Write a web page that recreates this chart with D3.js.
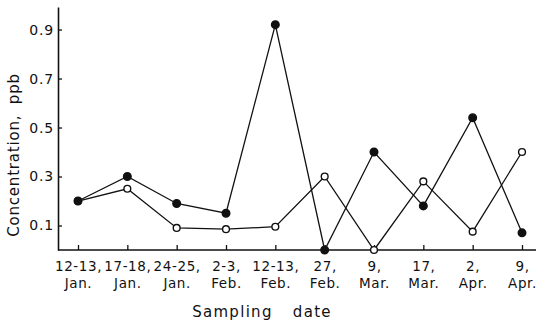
<!DOCTYPE html>
<html>
<head>
<meta charset="utf-8">
<script src="https://cdn.jsdelivr.net/npm/d3@7"></script>
<style>
  html, body { margin: 0; padding: 0; background: #fff; }
  svg { display: block; }
  text { font-family: "DejaVu Sans", sans-serif; fill: #111; }
</style>
</head>
<body>
<svg id="chart" width="536" height="325"></svg>
<script>
// Sampling dates (two-line labels)
const dateTop = ["12-13,", "17-18,", "24-25,", "2-3,", "12-13,", "27,", "9,", "17,", "2,", "9,"];
const dateBottom = ["Jan.", "Jan.", "Jan.", "Feb.", "Feb.", "Feb.", "Mar.", "Mar.", "Apr.", "Apr."];

// Concentration, ppb
const filledSeries = [0.20, 0.30, 0.19, 0.15, 0.92, 0.00, 0.40, 0.18, 0.54, 0.07];
const openSeries   = [0.20, 0.25, 0.09, 0.085, 0.095, 0.30, 0.00, 0.28, 0.075, 0.40];

const yTicks = [0.1, 0.3, 0.5, 0.7, 0.9];

const svg = d3.select("#chart");
const margin = { left: 58, right: 0, top: 7, bottom: 75 };
const width = 536, height = 325;

const x = d3.scalePoint()
  .domain(d3.range(dateTop.length))
  .range([78, 522]);

const y = d3.scaleLinear()
  .domain([0, 0.992])
  .range([height - margin.bottom, margin.top]);

// y axis
const yAxis = d3.axisLeft(y)
  .tickValues(yTicks)
  .tickFormat(d3.format(".1f"))
  .tickSizeInner(-4)
  .tickSizeOuter(0)
  .tickPadding(6);

const gy = svg.append("g")
  .attr("transform", `translate(${margin.left},0)`)
  .call(yAxis);
gy.select(".domain").attr("stroke", "#111").attr("stroke-width", 1.6);
gy.selectAll(".tick line").attr("stroke", "#111").attr("stroke-width", 1.3);
gy.selectAll(".tick text")
  .attr("font-size", 14)
  .attr("letter-spacing", 0.8)
  .attr("x", -4);

// x axis
const xAxis = d3.axisBottom(x)
  .tickSizeInner(-5)
  .tickSizeOuter(0)
  .tickFormat(() => "");

const gx = svg.append("g")
  .attr("transform", `translate(0,${y(0)})`)
  .call(xAxis);
gx.select(".domain")
  .attr("d", `M${margin.left},0H${width}`)
  .attr("stroke", "#111").attr("stroke-width", 1.6);
gx.selectAll(".tick line").attr("stroke", "#111").attr("stroke-width", 1.3);

const labels = gx.selectAll(".tick").append("text")
  .attr("text-anchor", "middle")
  .attr("font-size", 13.5)
  .attr("letter-spacing", 0.6)
  .style("fill", "#111");
labels.append("tspan").attr("x", 0).attr("y", 21).text(i => dateTop[i]);
labels.append("tspan").attr("x", 0).attr("y", 38).text(i => dateBottom[i]);

// axis titles
svg.append("text")
  .attr("x", 262).attr("y", 317)
  .attr("text-anchor", "middle")
  .attr("font-size", 15)
  .attr("letter-spacing", 1.3)
  .attr("word-spacing", 14)
  .text("Sampling date");

svg.append("text")
  .attr("transform", `translate(19,155) rotate(-90)`)
  .attr("text-anchor", "middle")
  .attr("font-size", 15)
  .attr("letter-spacing", 0.8)
  .attr("word-spacing", 5)
  .text("Concentration, ppb");

// series lines and markers
const line = d3.line()
  .x((d, i) => x(i))
  .y(d => y(d));

function drawSeries(values, filled) {
  svg.append("path")
    .datum(values)
    .attr("d", line)
    .attr("fill", "none")
    .attr("stroke", "#111")
    .attr("stroke-width", 1.3);
  svg.append("g").selectAll("circle")
    .data(values)
    .join("circle")
    .attr("cx", (d, i) => x(i))
    .attr("cy", d => y(d))
    .attr("r", filled ? 3.8 : 3.4)
    .attr("fill", filled ? "#111" : "#fff")
    .attr("stroke", "#111")
    .attr("stroke-width", 1.4);
}

drawSeries(openSeries, false);
drawSeries(filledSeries, true);
</script>
</body>
</html>
